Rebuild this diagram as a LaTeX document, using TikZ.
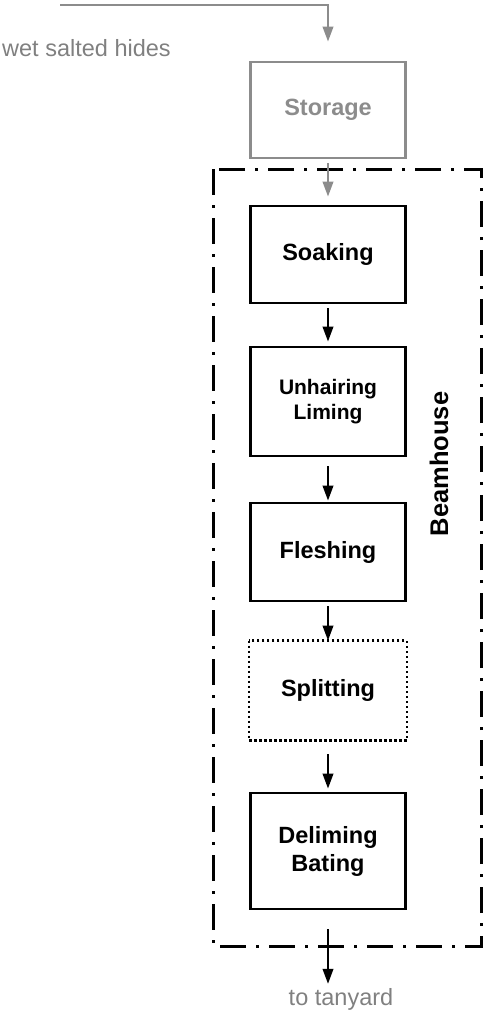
\documentclass[tikz,border=0pt]{standalone}
\usepackage{fontspec}
\setmainfont{Liberation Sans}
\usetikzlibrary{arrows.meta}
\definecolor{feedgray}{RGB}{140,140,140}
\definecolor{labelgray}{RGB}{128,128,128}
\begin{document}
\begin{tikzpicture}[x=1pt,y=-1pt,
  stepbox/.style={draw=black,line width=2.8pt,minimum width=155pt,align=center,
    font=\fontsize{23.5}{28}\selectfont\bfseries,inner sep=0pt},
  flow/.style={line width=2.2pt,-{Triangle[length=15pt,width=10.5pt]}},
  feed/.style={flow,draw=feedgray,-{Triangle[length=15pt,width=10.5pt,fill=feedgray]}},
  note/.style={text=labelgray,font=\fontsize{23.5}{28}\selectfont,inner sep=0pt}]
\useasboundingbox (0,0) rectangle (484,1021);

% incoming hides and storage
\coordinate (in) at (60,5);
\node[note,anchor=west] (hides) at (2,48) {wet salted hides};
\node[stepbox,draw=feedgray,text=feedgray,minimum height=96pt] (storage) at (328,110) {Storage};

% beamhouse boundary
\draw[line width=3pt,dash pattern=on 26pt off 10pt on 3pt off 10pt] (213,169) rectangle (481,946);
\node[font=\fontsize{25.5}{30}\selectfont\bfseries,rotate=90,inner sep=0pt] (beam) at (439,464) {Beamhouse};

% process steps
\node[stepbox,minimum height=97pt] (soak) at (328,254.5) {Soaking};
\node[stepbox,minimum height=109pt,font=\fontsize{21}{25}\selectfont\bfseries] (unhair) at (328,401.5) {Unhairing\\Liming};
\node[stepbox,minimum height=98pt] (flesh) at (328,552) {Fleshing};
\node[stepbox,draw=none,minimum height=97pt] (split) at (328,690.5) {Splitting};
\draw[line width=2.4pt,dash pattern=on 2.4pt off 2.6pt] (split.north west) rectangle (split.south east);
\node[stepbox,minimum height=116pt] (delime) at (328,851) {Deliming\\Bating};
\node[note] (tan) at (341,999) {to tanyard};

% connectors
\draw[feed,shorten >=19pt] (in) -| (storage.north);
\draw[feed,shorten <=4pt,shorten >=8pt] (storage.south) -- (soak.north);
\draw[flow,shorten <=4pt,shorten >=4pt] (soak) -- (unhair);
\draw[flow,shorten <=9pt,shorten >=1pt] (unhair) -- (flesh);
\draw[flow,shorten <=4pt,shorten >=0pt] (flesh) -- (split);
\draw[flow,shorten <=14pt,shorten >=3pt] (split) -- (delime);
\draw[flow,shorten <=19pt,shorten >=4pt] (delime.south) -- (delime.south |- tan.north);
\end{tikzpicture}
\end{document}
